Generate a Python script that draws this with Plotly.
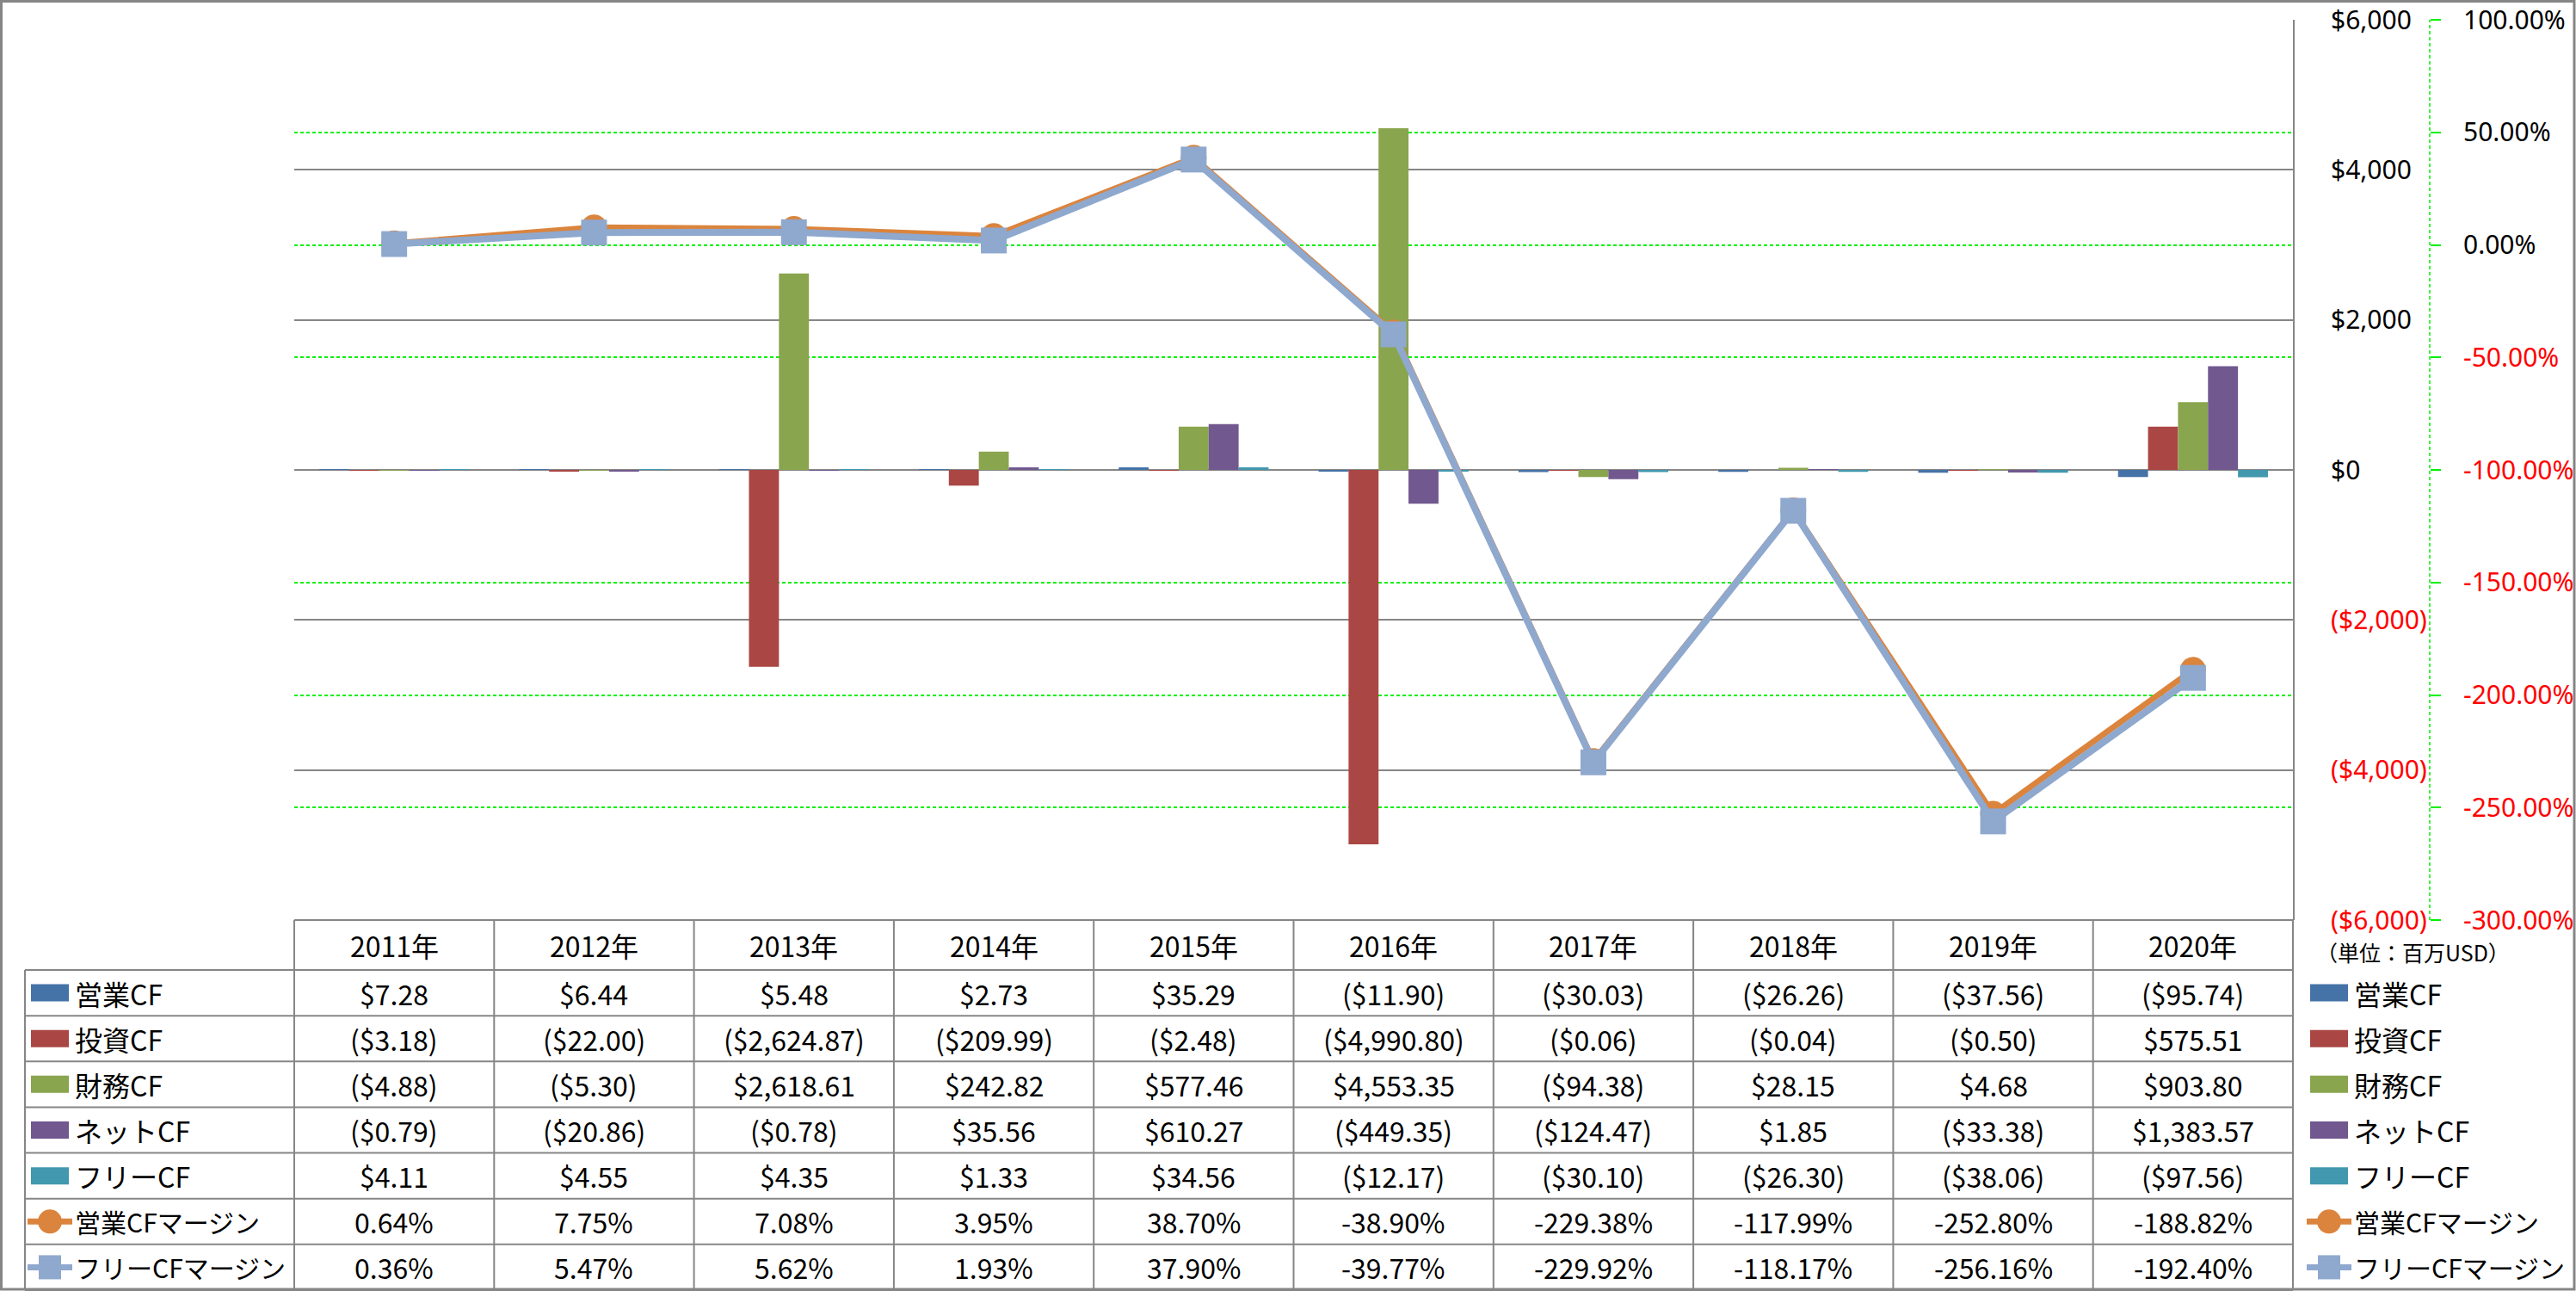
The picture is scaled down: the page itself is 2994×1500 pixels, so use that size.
import plotly.graph_objects as go

# ---------------- data ----------------
years = ["2011年", "2012年", "2013年", "2014年", "2015年",
         "2016年", "2017年", "2018年", "2019年", "2020年"]
op_cf = [7.28, 6.44, 5.48, 2.73, 35.29, -11.90, -30.03, -26.26, -37.56, -95.74]
inv_cf = [-3.18, -22.00, -2624.87, -209.99, -2.48, -4990.80, -0.06, -0.04, -0.50, 575.51]
fin_cf = [-4.88, -5.30, 2618.61, 242.82, 577.46, 4553.35, -94.38, 28.15, 4.68, 903.80]
net_cf = [-0.79, -20.86, -0.78, 35.56, 610.27, -449.35, -124.47, 1.85, -33.38, 1383.57]
free_cf = [4.11, 4.55, 4.35, 1.33, 34.56, -12.17, -30.10, -26.30, -38.06, -97.56]
op_margin = [0.64, 7.75, 7.08, 3.95, 38.70, -38.90, -229.38, -117.99, -252.80, -188.82]
free_margin = [0.36, 5.47, 5.62, 1.93, 37.90, -39.77, -229.92, -118.17, -256.16, -192.40]

usd_ticks = [6000, 4000, 2000, 0, -2000, -4000, -6000]
pct_ticks = [100, 50, 0, -50, -100, -150, -200, -250, -300]
unit_label = "（単位：百万USD）"

bar_series = [
    ("営業CF", op_cf, "#4572A7"),
    ("投資CF", inv_cf, "#AA4643"),
    ("財務CF", fin_cf, "#89A54E"),
    ("ネットCF", net_cf, "#71588F"),
    ("フリーCF", free_cf, "#4198AF"),
]
line_series = [
    ("営業CFマージン", op_margin, "#DB843D", "circle", 7),
    ("フリーCFマージン", free_margin, "#8FA8CE", "square", 8),
]

# ---------------- geometry (pixels) ----------------
W, H = 2994, 1500
PL, PR, PT, PB = 342, 2665, 23, 1069
PAPER_R = 2824
PW = PAPER_R - PL
PH = PB - PT
ROW_TOP = 1127
ROW_H = (1499 - ROW_TOP) / 7
GRID = "#868686"
GREEN = "#00F000"
TFONT = "Noto Sans CJK JP"
AFONT = "Noto Sans"
TSIZE = 32


def fx(px):
    return (px - PL) / PW


def fy(py):
    return (PB - py) / PH


def money(v):
    s = f"${abs(v):,.2f}"
    return f"({s})" if v < 0 else s


def pct(v):
    return f"{v:.2f}%"


def usd_tick(v):
    s = f"${abs(v):,.0f}"
    if v < 0:
        return f"<span style='color:#FF0000'>({s})</span>"
    return s


def pct_tick(v):
    s = f"{v:.2f}%"
    if v < 0:
        return f"<span style='color:#FF0000'>{s}</span>"
    return s


fig = go.Figure()

for name, vals, col in bar_series:
    fig.add_trace(go.Bar(x=years, y=vals, name=name, marker=dict(color=col, line=dict(width=0)),
                         yaxis="y", showlegend=False))

for name, vals, col, sym, lw in line_series:
    fig.add_trace(go.Scatter(x=years, y=vals, name=name, yaxis="y2", mode="lines+markers",
                             line=dict(color=col, width=lw),
                             marker=dict(symbol=sym, size=30, color=col,
                                         line=dict(width=0)),
                             showlegend=False))

shapes = []
annotations = []


def hline(py, x0, x1):
    shapes.append(dict(type="line", xref="paper", yref="paper", x0=fx(x0), x1=fx(x1),
                       y0=fy(py), y1=fy(py), line=dict(color=GRID, width=2), layer="above"))


def vline(px, y0, y1):
    shapes.append(dict(type="line", xref="paper", yref="paper", x0=fx(px), x1=fx(px),
                       y0=fy(y0), y1=fy(y1), line=dict(color=GRID, width=2), layer="above"))


hline(PB, PL, PR)
for k in range(8):
    hline(ROW_TOP + k * ROW_H, 29, PR)
vline(29, ROW_TOP, 1499)
n = len(years)
for k in range(n + 1):
    vline(PL + k * (PR - PL) / n, PB, 1499)

# secondary axis line (dashed green)
shapes.append(dict(type="line", xref="paper", yref="paper", x0=1, x1=1, y0=0, y1=1,
                   line=dict(color=GREEN, width=1.5, dash="4px,3px")))

# outer frame
shapes.append(dict(type="rect", xref="paper", yref="paper",
                   x0=fx(1.5), x1=fx(W - 2), y0=fy(H - 2), y1=fy(1.5),
                   line=dict(color=GRID, width=3), fillcolor="rgba(0,0,0,0)", layer="above"))

# ---- header ----
for y in years:
    annotations.append(dict(x=y, xref="x", y=fy((PB + ROW_TOP) / 2), yref="paper",
                            text=y, showarrow=False, xanchor="center", yanchor="middle",
                            font=dict(family=TFONT, size=TSIZE, color="#000")))

rows = [(nm, vals, col, "bar", None) for nm, vals, col in bar_series] + \
       [(nm, vals, col, "line", sym) for nm, vals, col, sym, lw in line_series]


def legend_key(cx, cy, col, kind, sym):
    if kind == "bar":
        shapes.append(dict(type="rect", xref="paper", yref="paper",
                           x0=fx(cx - 22), x1=fx(cx + 22), y0=fy(cy + 10), y1=fy(cy - 10),
                           fillcolor=col, line=dict(width=0), layer="above"))
    else:
        shapes.append(dict(type="line", xref="paper", yref="paper",
                           x0=fx(cx - 26), x1=fx(cx + 26), y0=fy(cy), y1=fy(cy),
                           line=dict(color=col, width=7), layer="above"))
        if sym == "circle":
            shapes.append(dict(type="circle", xref="paper", yref="paper",
                               x0=fx(cx - 14), x1=fx(cx + 14), y0=fy(cy + 14), y1=fy(cy - 14),
                               fillcolor=col, line=dict(width=0), layer="above"))
        else:
            shapes.append(dict(type="rect", xref="paper", yref="paper",
                               x0=fx(cx - 13), x1=fx(cx + 13), y0=fy(cy + 14), y1=fy(cy - 14),
                               fillcolor=col, line=dict(width=0), layer="above"))


for i, (nm, vals, col, kind, sym) in enumerate(rows):
    cy = ROW_TOP + ROW_H * (i + 0.5)
    for y, v in zip(years, vals):
        txt = money(v) if kind == "bar" else pct(v)
        annotations.append(dict(x=y, xref="x", y=fy(cy), yref="paper", text=txt,
                                showarrow=False, xanchor="center", yanchor="middle",
                                font=dict(family=TFONT, size=TSIZE, color="#000")))
    lsize = TSIZE if kind == "bar" else 30
    legend_key(58, cy, col, kind, sym)
    annotations.append(dict(x=fx(85), xref="paper", y=fy(cy), yref="paper", text=nm,
                            showarrow=False, xanchor="left", yanchor="middle",
                            font=dict(family=TFONT, size=lsize, color="#000")))
    legend_key(2707, cy, col, kind, sym)
    annotations.append(dict(x=fx(2734), xref="paper", y=fy(cy), yref="paper", text=nm,
                            showarrow=False, xanchor="left", yanchor="middle",
                            font=dict(family=TFONT, size=lsize, color="#000")))

annotations.append(dict(x=fx(2690), xref="paper", y=fy(1106), yref="paper", text=unit_label,
                        showarrow=False, xanchor="left", yanchor="middle",
                        font=dict(family=TFONT, size=25, color="#000")))

fig.update_layout(
    width=W, height=H,
    margin=dict(l=PL, r=W - PAPER_R, t=PT, b=H - PB, pad=0, autoexpand=False),
    paper_bgcolor="white", plot_bgcolor="white",
    barmode="group", bargap=0.25, bargroupgap=0,
    font=dict(family=AFONT, size=30, color="#000"),
    xaxis=dict(domain=[0, (PR - PL) / PW], type="category", categoryorder="array",
               categoryarray=years, range=[-0.5, n - 0.5], automargin=False,
               showticklabels=False, showgrid=False, zeroline=False, showline=False),
    yaxis=dict(side="right", range=[-6000, 6000], tickvals=usd_ticks,
               ticktext=[usd_tick(v) for v in usd_ticks], automargin=False,
               showgrid=True, gridcolor=GRID, gridwidth=2,
               zeroline=True, zerolinecolor=GRID, zerolinewidth=2,
               showline=True, linecolor=GRID, linewidth=2,
               ticks="", ticklabelstandoff=36,
               tickfont=dict(family=AFONT, size=30, color="#000")),
    yaxis2=dict(overlaying="y", side="right", anchor="free", position=1,
                range=[-300, 100], tickvals=pct_ticks, automargin=False,
                ticktext=[pct_tick(v) for v in pct_ticks],
                showgrid=True, gridcolor=GREEN, gridwidth=1.5, griddash="4px,3px",
                zeroline=False, showline=False,
                ticks="outside", ticklen=12, tickwidth=1.5, tickcolor=GREEN,
                ticklabelstandoff=20,
                tickfont=dict(family=AFONT, size=30, color="#000")),
    shapes=shapes,
    annotations=annotations,
)

fig.write_html("out.html", config={"displayModeBar": False},
               post_script="document.body.style.margin='0';")
